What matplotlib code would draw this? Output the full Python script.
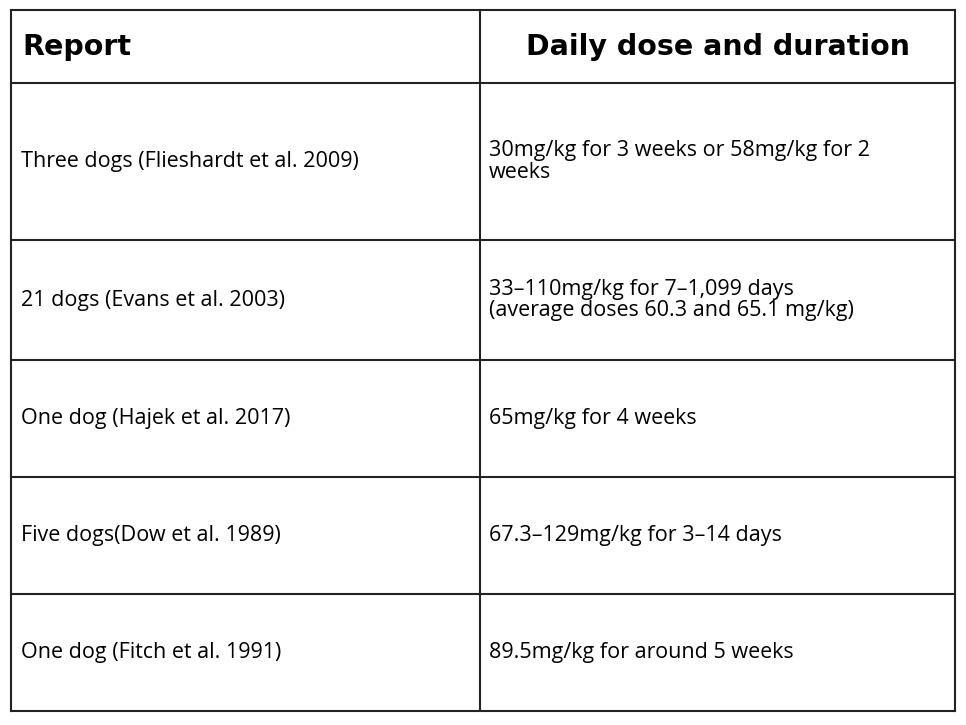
import matplotlib
matplotlib.use("Agg")
import matplotlib.pyplot as plt

headers = ["Report", "Daily dose and duration"]
reports = ["Three dogs (Flieshardt et al. 2009)", "21 dogs (Evans et al. 2003)",
           "One dog (Hajek et al. 2017)", "Five dogs(Dow et al. 1989)",
           "One dog (Fitch et al. 1991)"]
doses = ["30mg/kg for 3 weeks or 58mg/kg for 2\nweeks",
         "33\u2013110mg/kg for 7\u20131,099 days\n(average doses 60.3 and 65.1 mg/kg)",
         "65mg/kg for 4 weeks", "67.3\u2013129mg/kg for 3\u201314 days",
         "89.5mg/kg for around 5 weeks"]

row_edges = [10, 83, 240, 360, 477, 594, 711]
col_edges = [11, 480, 955]

fig = plt.figure(figsize=(9.66, 7.25), dpi=100)
ax = fig.add_axes([0, 0, 1, 1])
ax.set_xlim(0, 966); ax.set_ylim(725, 0); ax.axis("off")

for y in row_edges:
    ax.plot([col_edges[0], col_edges[-1]], [y, y], color="#222", lw=1.5, solid_capstyle="projecting")
for x in col_edges:
    ax.plot([x, x], [row_edges[0], row_edges[-1]], color="#222", lw=1.5, solid_capstyle="projecting")

hy = (row_edges[0] + row_edges[1]) / 2
ax.text(22, hy, headers[0], fontsize=20.5, fontweight="bold", family="DejaVu Sans", va="center", ha="left")
ax.text(718, hy, headers[1], fontsize=20.5, fontweight="bold", family="DejaVu Sans", va="center", ha="center")

for i, (r, d) in enumerate(zip(reports, doses)):
    cy = (row_edges[i + 1] + row_edges[i + 2]) / 2
    ax.text(21, cy, r, fontsize=15.5, family="Open Sans", va="center", ha="left")
    ax.text(489, cy, d, fontsize=15.5, family="Open Sans", va="center", ha="left", linespacing=1.05)

fig.savefig("out.png", dpi=100, facecolor="white")
